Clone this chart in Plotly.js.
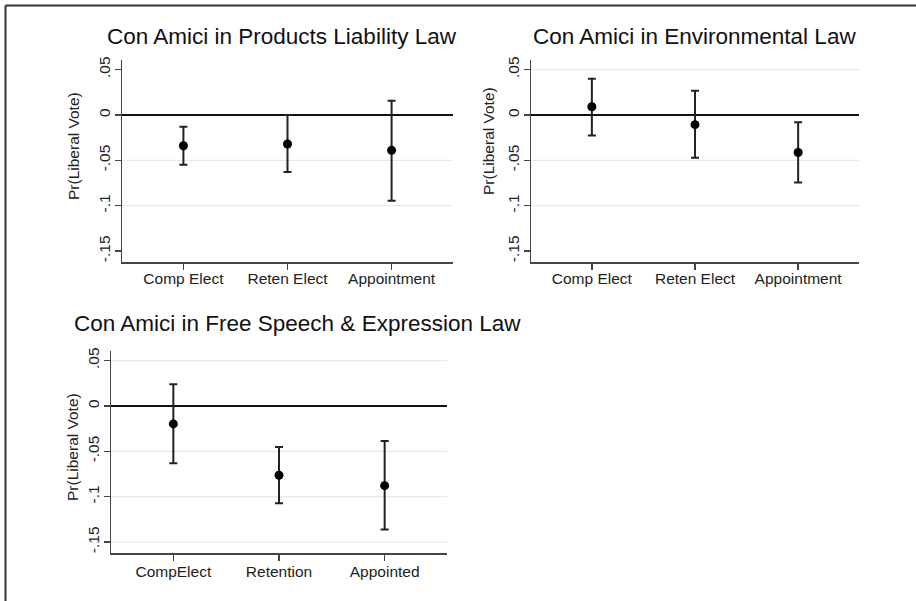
<!DOCTYPE html>
<html>
<head>
<meta charset="utf-8">
<script src="https://cdn.plot.ly/plotly-3.0.1.min.js"></script>
<style>
  html, body { margin: 0; padding: 0; background: #fff; }
  #chart { width: 916px; height: 601px; }
</style>
</head>
<body>
<div id="chart"></div>
<script>
// ---- Data ----
const titles = [
  "Con Amici in Products Liability Law",
  "Con Amici in Environmental Law",
  "Con Amici in Free Speech & Expression Law"
];
const yAxisTitle = "Pr(Liberal Vote)";

const catsProducts = ["Comp Elect", "Reten Elect", "Appointment"];
const estProducts  = [-0.034, -0.032, -0.039];
const lowProducts  = [-0.055, -0.063, -0.0945];
const highProducts = [-0.013, 0.000, 0.0157];

const catsEnv = ["Comp Elect", "Reten Elect", "Appointment"];
const estEnv  = [0.009, -0.0107, -0.0414];
const lowEnv  = [-0.0227, -0.0473, -0.0744];
const highEnv = [0.0399, 0.0267, -0.0081];

const catsSpeech = ["CompElect", "Retention", "Appointed"];
const estSpeech  = [-0.0198, -0.0763, -0.0878];
const lowSpeech  = [-0.0631, -0.1072, -0.1362];
const highSpeech = [0.0239, -0.0452, -0.0385];

const tickVals = [0.05, 0, -0.05, -0.1, -0.15];
const tickText = [".05", "0", "-.05", "-.1", "-.15"];

// gridlines visible in each panel
const gridProducts = [-0.05, -0.1];
const gridEnv = [0.05, -0.05, -0.1];
const gridSpeech = [0.05, -0.05, -0.1, -0.15];

// ---- Layout helpers ----
const W = 916, H = 601;
const px = v => v / W;
const py = v => 1 - v / H;
const FONT = "Liberation Sans, Arial, sans-serif";

function trace(cats, est, low, high, ax) {
  return {
    type: "scatter", mode: "markers",
    x: cats, y: est,
    xaxis: "x" + ax, yaxis: "y" + ax,
    marker: { color: "#000", size: 9 },
    error_y: {
      type: "data", symmetric: false,
      array: high.map((h, i) => h - est[i]),
      arrayminus: low.map((l, i) => est[i] - l),
      color: "#222", thickness: 2, width: 4
    },
    showlegend: false, hoverinfo: "x+y"
  };
}

const data = [
  trace(catsProducts, estProducts, lowProducts, highProducts, ""),
  trace(catsEnv, estEnv, lowEnv, highEnv, "2"),
  trace(catsSpeech, estSpeech, lowSpeech, highSpeech, "3")
];

function xax(dom, anchor, standoff) {
  return {
    domain: dom, anchor: anchor, type: "category",
    range: [-0.59, 2.59], showgrid: false, zeroline: false,
    showline: true, linecolor: "#444", linewidth: 1.5,
    ticks: "outside", ticklen: 6, tickcolor: "#444", tickwidth: 1.5,
    ticklabelstandoff: standoff,
    tickfont: { family: FONT, size: 15.5, color: "#222" },
    fixedrange: true
  };
}
function yax(dom, anchor) {
  return {
    domain: dom, anchor: anchor,
    range: [-0.162, 0.0605], showgrid: false,
    zeroline: true, zerolinecolor: "#111", zerolinewidth: 1.5,
    showline: true, linecolor: "#444", linewidth: 1.5,
    ticks: "outside", ticklen: 6, tickcolor: "#444", tickwidth: 1.5,
    tickvals: tickVals, ticktext: tickText, tickangle: -90,
    ticklabelstandoff: -2,
    tickfont: { family: FONT, size: 15.5, color: "#222" },
    fixedrange: true
  };
}

const dom1x = [px(122), px(453)], dom1y = [py(262), py(60)];
const dom2x = [px(531), px(859)], dom2y = [py(262), py(60)];
const dom3x = [px(111), px(447)], dom3y = [py(553), py(351)];

const shapes = [];
function grids(vals, xr, yr) {
  vals.forEach(v => shapes.push({
    type: "line", xref: xr + " domain", yref: yr,
    x0: 0, x1: 1, y0: v, y1: v,
    line: { color: "#e2ecef", width: 1.2 }, layer: "below"
  }));
}
grids(gridProducts, "x", "y");
grids(gridEnv, "x2", "y2");
grids(gridSpeech, "x3", "y3");
// outer frame (top and left edges)
shapes.push({ type: "line", xref: "paper", yref: "paper",
  x0: px(5.5), x1: 1, y0: py(5.5), y1: py(5.5), line: { color: "#333", width: 2 } });
shapes.push({ type: "line", xref: "paper", yref: "paper",
  x0: px(5.5), x1: px(5.5), y0: 0, y1: py(5.5), line: { color: "#333", width: 2 } });

const annotations = [
  { text: titles[0], x: px(282), y: py(37) },
  { text: titles[1], x: px(694), y: py(37) },
  { text: titles[2], x: px(297), y: py(323) }
].map(a => Object.assign(a, {
  xref: "paper", yref: "paper", xanchor: "center", yanchor: "middle",
  showarrow: false, font: { family: FONT, size: 22.5, color: "#111" }
}));
[[73, 146], [488, 141], [72, 447]].forEach(p => annotations.push({
  text: yAxisTitle, x: px(p[0]), y: py(p[1]), xref: "paper", yref: "paper",
  xanchor: "center", yanchor: "middle", textangle: -90, showarrow: false,
  font: { family: FONT, size: 15.5, color: "#222" }
}));

const layout = {
  width: W, height: H,
  margin: { l: 0, r: 0, t: 0, b: 0 },
  paper_bgcolor: "#fff", plot_bgcolor: "#fff",
  xaxis: xax(dom1x, "y", -4), yaxis: yax(dom1y, "x"),
  xaxis2: xax(dom2x, "y2", -4), yaxis2: yax(dom2y, "x2"),
  xaxis3: xax(dom3x, "y3", -2), yaxis3: yax(dom3y, "x3"),
  shapes: shapes, annotations: annotations,
  showlegend: false
};

Plotly.newPlot("chart", data, layout, { displayModeBar: false, staticPlot: true });
</script>
</body>
</html>
